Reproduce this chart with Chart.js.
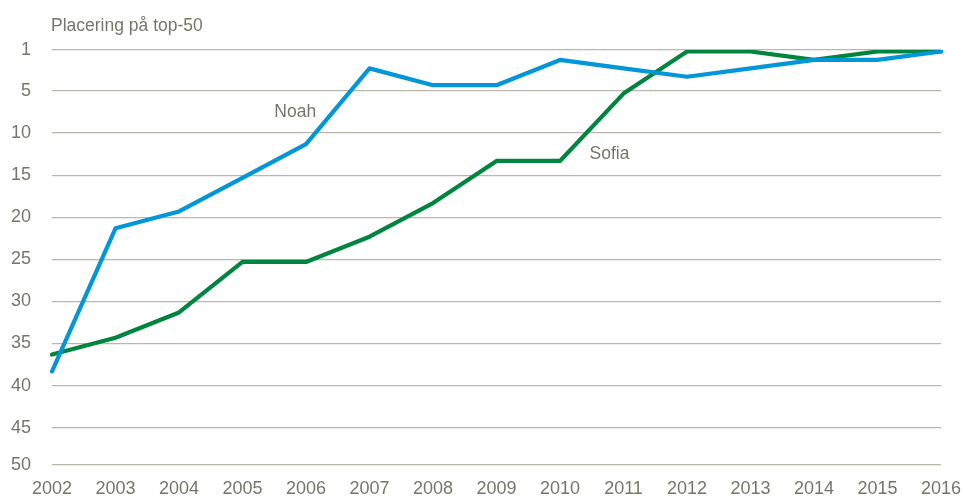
<!DOCTYPE html>
<html>
<head>
<meta charset="utf-8">
<script src="https://cdn.jsdelivr.net/npm/chart.js@4"></script>
<style>
  html, body { margin: 0; padding: 0; background: #fff; }
  #wrap { width: 962px; height: 498px; }
</style>
</head>
<body>
<div id="wrap"><canvas id="rank-chart"></canvas></div>
<script>
// rank in top-50 per year
const years = ['2002','2003','2004','2005','2006','2007','2008','2009','2010','2011','2012','2013','2014','2015','2016'];
const noah  = [39, 22, 20, 16, 12, 3, 5, 5, 2, 3, 4, 3, 2, 2, 1];
const sofia = [37, 35, 32, 26, 26, 23, 19, 14, 14, 6, 1, 1, 2, 1, 1];
const yTickLabels = ['1','5','10','15','20','25','30','35','40','45','50'];

const axisTitle = 'Placering på top-50';
const textColor = '#76766a';
const gridColor = '#bab8ad';
const fontFamily = "'Liberation Sans', Arial, sans-serif";

// the source chart puts its gridlines ~0.7 rank below the printed label
const yMin = 0.82, yMax = 50.12, gridShift = 0.69;

const lineLabels = {
    id: 'lineLabels',
    afterDraw(chart) {
        const ctx = chart.ctx;
        const x = chart.scales.x, y = chart.scales.y;
        ctx.save();
        ctx.fillStyle = textColor;
        ctx.font = '17.5px ' + fontFamily;
        ctx.textBaseline = 'alphabetic';
        ctx.textAlign = 'left';
        ctx.fillText(axisTitle, chart.chartArea.left - 1, 31);
        ctx.textAlign = 'center';
        ctx.textBaseline = 'middle';
        ctx.fillText('Noah', x.getPixelForValue(3.83), y.getPixelForValue(8.2));
        ctx.fillText('Sofia', x.getPixelForValue(8.78), y.getPixelForValue(13.2));
        ctx.restore();
    }
};

const data = {
    labels: years,
    datasets: [{
        label: 'Noah',
        data: noah,
        borderColor: 'rgb(0, 150, 215)',
        borderWidth: 4.2,
        pointRadius: 0,
        tension: 0,
        borderCapStyle: 'round',
        borderJoinStyle: 'round'
    }, {
        label: 'Sofia',
        data: sofia,
        borderColor: 'rgb(0, 133, 62)',
        borderWidth: 4.2,
        pointRadius: 0,
        tension: 0,
        borderCapStyle: 'round',
        borderJoinStyle: 'round'
    }]
};

const config = {
    type: 'line',
    data: data,
    options: {
        responsive: true,
        maintainAspectRatio: false,
        animation: false,
        layout: { padding: { top: 50, right: 21, left: 0, bottom: 0 } },
        plugins: { legend: { display: false }, tooltip: { enabled: false } },
        scales: {
            x: {
                offset: false,
                grid: { display: false, drawTicks: false },
                border: { display: false },
                ticks: {
                    color: textColor,
                    font: { family: fontFamily, size: 18 },
                    padding: 13,
                    maxRotation: 0,
                    autoSkip: false
                },
                afterFit(scale) {
                    scale.height = 33;
                    scale.paddingLeft = 0;
                    scale.paddingRight = 0;
                }
            },
            y: {
                reverse: true,
                min: yMin,
                max: yMax,
                grid: { color: gridColor, lineWidth: 1.3, drawTicks: false },
                border: { display: false },
                ticks: {
                    color: textColor,
                    font: { family: fontFamily, size: 18 },
                    padding: 21,
                    callback: function(value, index) { return yTickLabels[index]; }
                },
                afterBuildTicks(scale) {
                    scale.ticks = yTickLabels.map(function(l, i) {
                        if (i === 0) return { value: yMin };
                        if (i === yTickLabels.length - 1) return { value: yMax };
                        return { value: Number(l) + gridShift };
                    });
                },
                afterFit(scale) {
                    scale.width = 52;
                    scale.paddingTop = 0;
                    scale.paddingBottom = 0;
                }
            }
        }
    },
    plugins: [lineLabels]
};

const mychart = new Chart(document.getElementById('rank-chart'), config);
</script>
</body>
</html>
